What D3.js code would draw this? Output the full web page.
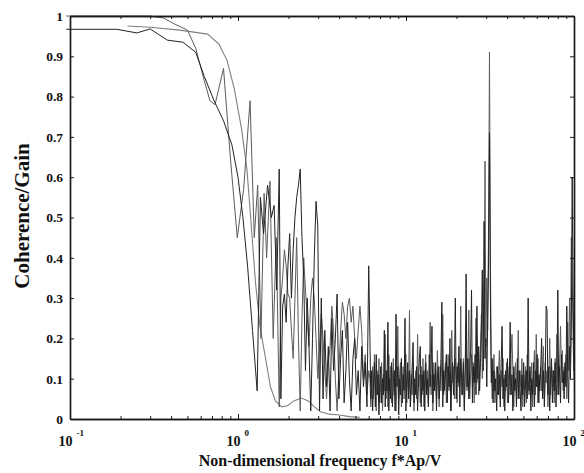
<!DOCTYPE html>
<html>
<head>
<meta charset="utf-8">
<script src="https://cdn.jsdelivr.net/npm/d3@7/dist/d3.min.js"></script>
<style>
  body { margin: 0; background: #fff; }
  svg text { font-family: "Liberation Serif", "Times New Roman", serif; font-weight: bold; fill: #111; }
</style>
</head>
<body>
<svg id="chart" width="584" height="473"></svg>
<script>
// ---------- data ----------
const yTicks = [0, 0.1, 0.2, 0.3, 0.4, 0.5, 0.6, 0.7, 0.8, 0.9, 1];
const yTickLabels = ["0", "0.1", "0.2", "0.3", "0.4", "0.5", "0.6", "0.7", "0.8", "0.9", "1"];
const decades = [0.1, 1, 10, 100];
const decadeExponents = ["-1", "0", "1", "2"];

// first coherence estimate, low-frequency part
const coh1LowFreq = [0.095, 0.19, 0.25, 0.30, 0.38, 0.47, 0.56, 0.63, 0.72, 0.82, 0.92, 1.0, 1.07, 1.14, 1.22, 1.30, 1.36, 1.42, 1.50, 1.58, 1.64, 1.70, 1.76];
const coh1LowVal  = [0.967, 0.967, 0.958, 0.968, 0.94, 0.935, 0.91, 0.85, 0.79, 0.74, 0.68, 0.60, 0.50, 0.38, 0.22, 0.07, 0.55, 0.46, 0.58, 0.50, 0.53, 0.32, 0.62];

// second coherence estimate, low-frequency part
const coh2LowFreq = [0.095, 0.30, 0.36, 0.42, 0.50, 0.56, 0.62, 0.68, 0.73, 0.82, 0.90, 0.99, 1.08, 1.18, 1.25, 1.31, 1.37, 1.43, 1.48, 1.55, 1.62, 1.69, 1.76];
const coh2LowVal  = [1.0, 1.0, 0.995, 0.98, 0.965, 0.92, 0.85, 0.79, 0.78, 0.87, 0.65, 0.45, 0.57, 0.79, 0.45, 0.58, 0.20, 0.56, 0.40, 0.59, 0.20, 0.45, 0.03];

// gain curve
const gainFreq = [0.22, 0.30, 0.45, 0.66, 0.77, 0.86, 0.95, 1.05, 1.13, 1.19, 1.27, 1.35, 1.46, 1.56, 1.67, 1.82, 1.97, 2.15, 2.38, 2.62, 2.85, 3.1, 3.5, 4.0, 4.6, 5.3];
const gainVal  = [0.975, 0.972, 0.965, 0.955, 0.93, 0.89, 0.82, 0.72, 0.62, 0.50, 0.34, 0.23, 0.15, 0.08, 0.045, 0.03, 0.033, 0.045, 0.052, 0.045, 0.03, 0.018, 0.012, 0.01, 0.006, 0.004];

// mid band: log-spaced bins from 1.8 to 6.0
const midStartFreq = 1.8, midEndFreq = 6.0;
const coh1Mid = [
  0.05,0.28,0.31,0.24,0.38,0.46,0.30,0.42,0.50,0.55,
  0.58,0.62,0.45,0.35,0.12,0.30,0.18,0.02,0.20,0.40,
  0.54,0.48,0.02,0.30,0.05,0.22,0.08,0.18,0.02,0.25,
  0.12,0.20,0.31,0.05,0.15,0.22,0.04,0.12,0.24,0.10,
  0.02,0.15,0.20,0.06,0.12,0.02,0.18,0.08,0.14,0.03,
  0.38
];
const coh2Mid = [
  0.30,0.35,0.42,0.38,0.31,0.30,0.22,0.15,0.30,0.45,
  0.20,0.02,0.25,0.40,0.32,0.25,0.18,0.30,0.35,0.30,
  0.20,0.10,0.18,0.26,0.20,0.12,0.05,0.14,0.18,0.28,
  0.22,0.10,0.02,0.12,0.22,0.29,0.26,0.20,0.28,0.30,
  0.24,0.28,0.20,0.15,0.22,0.28,0.22,0.10,0.16,0.06,
  0.12
];

// high band: log-spaced bins from 6.1 to 100
const highStartFreq = 6.1, highEndFreq = 100;
const coh1High = [
  0.20,0.05,0.12,0.02,0.09,0.14,0.03,0.16,0.06,0.11,0.01,0.08,
  0.13,0.04,0.10,0.06,0.22,0.03,0.12,0.07,0.24,0.02,0.10,0.05,
  0.14,0.03,0.09,0.12,0.02,0.26,0.08,0.13,0.01,0.10,0.06,0.15,
  0.04,0.11,0.07,0.25,0.02,0.09,0.14,0.05,0.12,0.03,0.08,0.13,
  0.19,0.04,0.10,0.06,0.13,0.02,0.09,0.15,0.18,0.03,0.11,0.07,
  0.12,0.02,0.14,0.06,0.10,0.03,0.16,0.08,0.12,0.23,0.04,0.11,
  0.07,0.14,0.02,0.10,0.13,0.05,0.09,0.15,0.29,0.03,0.12,0.07,
  0.11,0.16,0.04,0.13,0.08,0.20,0.02,0.10,0.14,0.06,0.12,0.30,
  0.05,0.13,0.09,0.18,0.03,0.15,0.10,0.06,0.14,0.02,0.12,0.36,
  0.08,0.15,0.05,0.12,0.17,0.32,0.04,0.13,0.09,0.16,0.06,0.28,
  0.10,0.18,0.07,0.14,0.22,0.37,0.12,0.49,0.15,0.20,0.08,0.25,
  0.40,0.71,0.30,0.09,0.15,0.04,0.12,0.07,0.10,0.02,0.13,0.06,
  0.11,0.03,0.14,0.23,0.05,0.10,0.02,0.12,0.08,0.15,0.04,0.09,
  0.24,0.06,0.11,0.02,0.13,0.07,0.10,0.03,0.15,0.05,0.12,0.08,
  0.02,0.11,0.06,0.14,0.03,0.09,0.12,0.05,0.30,0.07,0.13,0.02,
  0.10,0.06,0.14,0.03,0.12,0.08,0.16,0.04,0.11,0.07,0.13,0.20,
  0.05,0.12,0.03,0.10,0.28,0.27,0.06,0.13,0.02,0.11,0.15,0.04,
  0.12,0.07,0.14,0.03,0.10,0.32,0.06,0.13,0.04,0.16,0.09,0.12,
  0.05,0.14,0.08,0.28,0.11,0.04,0.18,0.10,0.22,0.60,0.30,0.12
];
const coh2High = [
  0.10,0.03,0.08,0.13,0.05,0.16,0.09,0.02,0.12,0.06,0.15,0.04,
  0.09,0.14,0.02,0.11,0.07,0.21,0.05,0.12,0.03,0.16,0.08,0.13,
  0.04,0.10,0.15,0.06,0.12,0.02,0.09,0.23,0.05,0.11,0.14,0.03,
  0.08,0.13,0.05,0.10,0.16,0.04,0.12,0.07,0.27,0.03,0.11,0.06,
  0.14,0.02,0.09,0.12,0.05,0.21,0.08,0.11,0.04,0.13,0.06,0.15,
  0.03,0.10,0.16,0.07,0.12,0.04,0.09,0.24,0.06,0.11,0.02,0.14,
  0.08,0.12,0.05,0.17,0.10,0.03,0.13,0.07,0.15,0.26,0.06,0.11,
  0.14,0.04,0.10,0.16,0.07,0.12,0.02,0.22,0.09,0.13,0.05,0.15,
  0.11,0.04,0.14,0.08,0.12,0.28,0.06,0.10,0.15,0.03,0.12,0.24,
  0.07,0.13,0.27,0.05,0.11,0.16,0.08,0.14,0.04,0.12,0.25,0.09,
  0.15,0.06,0.12,0.18,0.26,0.10,0.14,0.20,0.64,0.18,0.35,0.22,
  0.50,0.91,0.40,0.12,0.05,0.10,0.16,0.04,0.09,0.13,0.06,0.11,
  0.17,0.05,0.12,0.08,0.15,0.03,0.11,0.07,0.14,0.04,0.10,0.13,
  0.06,0.16,0.21,0.12,0.03,0.10,0.14,0.06,0.11,0.22,0.05,0.12,
  0.08,0.15,0.03,0.11,0.07,0.13,0.04,0.16,0.10,0.06,0.12,0.09,
  0.14,0.03,0.11,0.17,0.06,0.21,0.08,0.15,0.04,0.10,0.13,0.07,
  0.11,0.18,0.05,0.14,0.09,0.12,0.03,0.10,0.20,0.06,0.13,0.08,
  0.12,0.04,0.15,0.09,0.21,0.06,0.11,0.14,0.23,0.12,0.17,0.07,
  0.13,0.09,0.16,0.05,0.24,0.12,0.30,0.14,0.45,0.35,0.20,0.10
];

const xTitle = "Non-dimensional frequency f*Ap/V";
const yTitle = "Coherence/Gain";

// ---------- layout ----------
const plot = { left: 70, right: 574, top: 16, bottom: 419 };
const svg = d3.select("#chart");

const x = d3.scaleLog().domain([0.1, 100]).range([plot.left, plot.right]);
const y = d3.scaleLinear().domain([0, 1]).range([plot.bottom, plot.top]);

// log-spaced frequency bins for a band
const logBins = (f0, f1, n) => d3.range(n).map(i => f0 * Math.pow(f1 / f0, i / (n - 1)));
const midFreq = logBins(midStartFreq, midEndFreq, coh1Mid.length);
const highFreq = logBins(highStartFreq, highEndFreq, coh1High.length);

const pairs = (fs, vs) => fs.map((f, i) => [f, vs[i]]);
const coh1 = [...pairs(coh1LowFreq, coh1LowVal), ...pairs(midFreq, coh1Mid), ...pairs(highFreq, coh1High)];
const coh2 = [...pairs(coh2LowFreq, coh2LowVal), ...pairs(midFreq, coh2Mid), ...pairs(highFreq, coh2High)];
const gain = pairs(gainFreq, gainVal);

const line = d3.line().x(d => x(d[0])).y(d => y(d[1]));

// ---------- curves ----------
svg.append("path").datum(gain).attr("d", line)
  .attr("fill", "none").attr("stroke", "#808080").attr("stroke-width", 1.1);
svg.append("path").datum(coh2).attr("d", line)
  .attr("fill", "none").attr("stroke", "#5c5c5c").attr("stroke-width", 1);
svg.append("path").datum(coh1).attr("d", line)
  .attr("fill", "none").attr("stroke", "#222").attr("stroke-width", 1);

// ---------- axes ----------
const minorTicks = [];
decades.slice(0, -1).forEach(d => { for (let k = 2; k <= 9; k++) minorTicks.push(d * k); });

function styleAxis(g) {
  g.select(".domain").attr("stroke", "#1a1a1a").attr("stroke-width", 1.7);
  g.selectAll(".tick line").attr("stroke", "#1a1a1a").attr("stroke-width", 1);
}

// bottom: minor ticks, then decades with labels
svg.append("g").attr("transform", `translate(0,${plot.bottom})`)
  .call(d3.axisBottom(x).tickValues(minorTicks).tickSize(-3).tickSizeOuter(0).tickFormat(""))
  .call(styleAxis);
const xMajor = svg.append("g").attr("transform", `translate(0,${plot.bottom})`)
  .call(d3.axisBottom(x).tickValues(decades).tickSize(-5).tickSizeOuter(0).tickFormat(""))
  .call(styleAxis);
xMajor.selectAll(".tick").each(function (d, i) {
  const t = d3.select(this).append("text")
    .attr("x", -12).attr("y", 27)
    .attr("text-anchor", "start")
    .style("font-size", "14px");
  t.append("tspan").text("10");
  t.append("tspan").attr("dx", 4).attr("dy", -10).style("font-size", "9px").text(decadeExponents[i]);
});

// top edge
svg.append("g").attr("transform", `translate(0,${plot.top})`)
  .call(d3.axisTop(x).tickValues(minorTicks).tickSize(-3).tickSizeOuter(0).tickFormat(""))
  .call(styleAxis);
svg.append("g").attr("transform", `translate(0,${plot.top})`)
  .call(d3.axisTop(x).tickValues(decades).tickSize(-5).tickSizeOuter(0).tickFormat(""))
  .call(styleAxis);

// left with labels
svg.append("g").attr("transform", `translate(${plot.left},0)`)
  .call(d3.axisLeft(y).tickValues(yTicks).tickSize(-4).tickSizeOuter(0).tickPadding(7)
    .tickFormat((d, i) => yTickLabels[i]))
  .call(styleAxis)
  .call(g => g.selectAll("text").attr("fill", "#111").style("font-size", "13.5px"));

// right edge
svg.append("g").attr("transform", `translate(${plot.right},0)`)
  .call(d3.axisRight(y).tickValues(yTicks).tickSize(-4).tickSizeOuter(0).tickFormat(""))
  .call(styleAxis);

// ---------- titles ----------
svg.append("text")
  .attr("x", (plot.left + plot.right) / 2 - 2).attr("y", 466)
  .attr("text-anchor", "middle").style("font-size", "16px")
  .text(xTitle);

svg.append("text")
  .attr("transform", `translate(29,216) rotate(-90)`)
  .attr("text-anchor", "middle").style("font-size", "21px")
  .text(yTitle);
</script>
</body>
</html>
